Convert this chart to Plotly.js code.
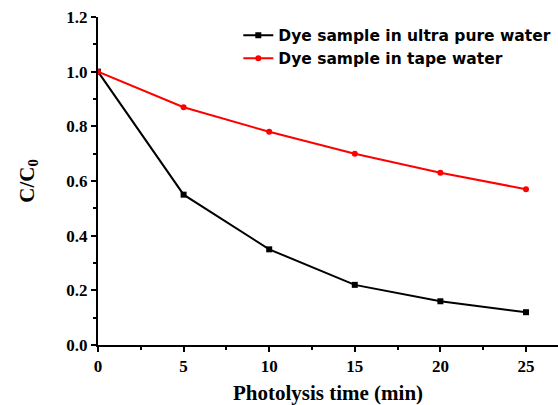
<!DOCTYPE html>
<html><head><meta charset="utf-8">
<script src="https://cdn.plot.ly/plotly-3.0.1.min.js"></script>
<style>html,body{margin:0;padding:0;background:#fff}#c{width:558px;height:405px}</style>
</head><body><div id="c"></div>
<script>
const timeMin = [0, 5, 10, 15, 20, 25];
const ultraPure = [1.0, 0.55, 0.35, 0.22, 0.16, 0.12];
const tapeWater = [1.0, 0.87, 0.78, 0.70, 0.63, 0.57];
const seriesNames = ["Dye sample in ultra pure water", "Dye sample in tape water"];
const xTickLabels = ["0", "5", "10", "15", "20", "25"];
const yTickVals = [0, 0.2, 0.4, 0.6, 0.8, 1.0, 1.2];
const yTickLabels = ["0.0", "0.2", "0.4", "0.6", "0.8", "1.0", "1.2"];

const traces = [
  {x: timeMin, y: ultraPure, name: seriesNames[0], mode: "lines+markers",
   line: {color: "#000000", width: 2}, marker: {symbol: "square", size: 6, color: "#000000"}},
  {x: timeMin, y: tapeWater, name: seriesNames[1], mode: "lines+markers",
   line: {color: "#ff0000", width: 2}, marker: {symbol: "circle", size: 6, color: "#ff0000"}}
];
const serif = "Liberation Serif, Times New Roman, serif";
const tickFont = {family: serif, size: 17, color: "#000", weight: "bold"};
const layout = {
  width: 558, height: 405,
  margin: {l: 98, r: 0, t: 17, b: 60},
  paper_bgcolor: "#fff", plot_bgcolor: "#fff",
  showlegend: true,
  legend: {x: 0.305, xanchor: "left", y: 0.995, yanchor: "top", bgcolor: "rgba(0,0,0,0)",
    font: {family: "DejaVu Sans, sans-serif", size: 15.5, color: "#000", weight: "bold"},
    tracegroupgap: 0},
  xaxis: {range: [0, 26.87], tickvals: timeMin, ticktext: xTickLabels,
    ticks: "outside", ticklen: 5, tickwidth: 2, tickcolor: "#000",
    minor: {dtick: 2.5, tick0: 0, ticks: "outside", ticklen: 3, tickwidth: 2, tickcolor: "#000"},
    showline: true, linecolor: "#000", linewidth: 2, showgrid: false, zeroline: false,
    tickfont: tickFont,
    title: {text: "<b>Photolysis time (min)</b>", font: {family: serif, size: 21, color: "#000"}, standoff: 10}},
  yaxis: {range: [0, 1.2], tickvals: yTickVals, ticktext: yTickLabels,
    ticks: "outside", ticklen: 5, tickwidth: 2, tickcolor: "#000",
    minor: {dtick: 0.1, tick0: 0, ticks: "outside", ticklen: 3, tickwidth: 2, tickcolor: "#000"},
    showline: true, linecolor: "#000", linewidth: 2, showgrid: false, zeroline: false,
    tickfont: tickFont,
    title: {text: "<b>C/C<sub>0</sub></b>", font: {family: serif, size: 21, color: "#000"}, standoff: 26}}
};
Plotly.newPlot("c", traces, layout, {displayModeBar: false, staticPlot: true});
</script></body></html>
